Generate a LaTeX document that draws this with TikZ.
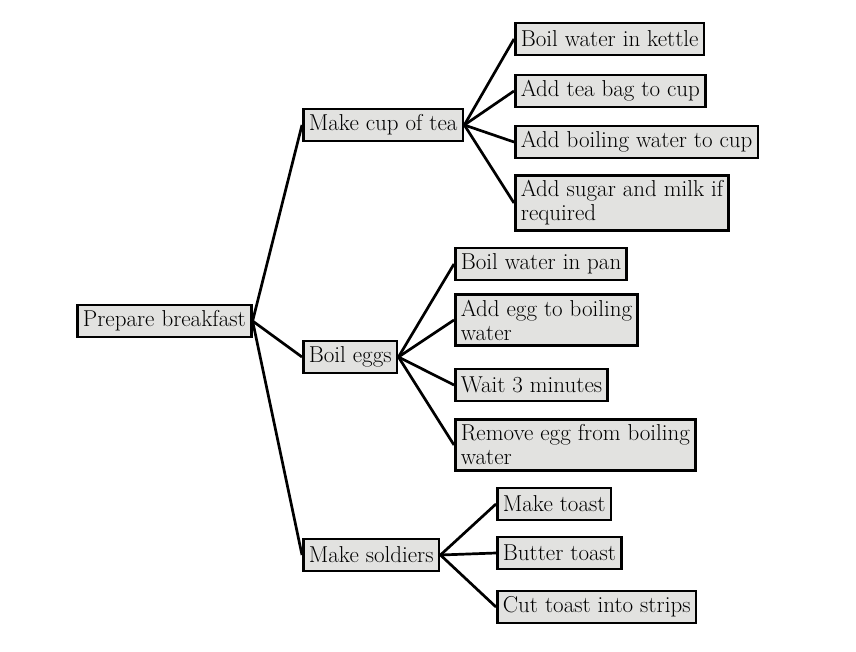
\documentclass[tikz,border=0pt]{standalone}
\definecolor{boxgray}{HTML}{E2E2E0}
\begin{document}
\begin{tikzpicture}[x=1pt,y=-1pt,line width=2.7pt,
  task/.style={draw, fill=boxgray, inner xsep=5.5pt, inner ysep=5pt,
    minimum height=32pt, align=left, anchor=west,
    font=\fontsize{23}{24}\selectfont}]
\useasboundingbox (0,0) rectangle (856,652);

\node[task] (root) at (76,321) {Prepare breakfast};

\node[task] (tea) at (302,125) {Make cup of tea};
\node[task] (eggs) at (302,357) {Boil eggs};
\node[task] (soldiers) at (302,555) {Make soldiers};

\node[task] (tea1) at (514,39) {Boil water in kettle};
\node[task] (tea2) at (514,91) {Add tea bag to cup};
\node[task] (tea3) at (514,142) {Add boiling water to cup};
\node[task] (tea4) at (514,203) {Add sugar and milk if\\required};

\node[task] (eggs1) at (454,264) {Boil water in pan};
\node[task] (eggs2) at (454,320) {Add egg to boiling\\water};
\node[task] (eggs3) at (454,385) {Wait 3 minutes};
\node[task] (eggs4) at (454,445) {Remove egg from boiling\\water};

\node[task] (soldiers1) at (496,504) {Make toast};
\node[task] (soldiers2) at (496,553) {Butter toast};
\node[task] (soldiers3) at (496,607) {Cut toast into strips};

\foreach \c in {tea,eggs,soldiers}
  \draw (root.east) -- (\c.west);
\foreach \p/\n in {tea/4,eggs/4,soldiers/3}
  \foreach \i in {1,...,\n}
    \draw (\p.east) -- (\p\i.west);

\end{tikzpicture}
\end{document}
